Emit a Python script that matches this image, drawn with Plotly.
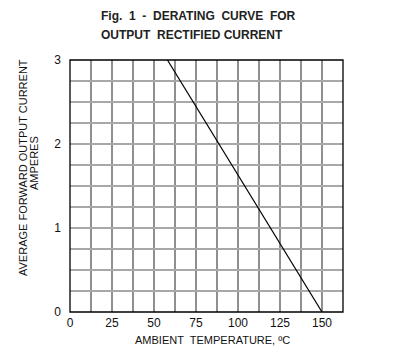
import plotly.graph_objects as go

# Data
temp = [58, 150]          # ambient temperature, °C
current = [3.0, 0.0]      # average forward output current, A

x_grid = [i * 12.5 for i in range(14)]           # 0 .. 162.5
x_labels = ["0", "", "25", "", "50", "", "75", "", "100", "", "125", "", "150", ""]
y_grid = [i * 0.25 for i in range(13)]           # 0 .. 3
y_labels = ["0", "", "", "", "1", "", "", "", "2", "", "", "", "3"]
y_black = [0.5, 0.75, 1.0, 1.25]

OFF = 8  # default page body margin
W, H = 410 - OFF, 358 - OFF
L, R, T, B = 70 - OFF, 67, 60 - OFF, 46
pw, ph = W - L - R, H - T - B

def px(xp):
    return (xp - OFF - L) / pw

def py(yp):
    return (H - B - (yp - OFF)) / ph

fig = go.Figure()
fig.add_trace(go.Scatter(x=temp, y=current, mode="lines",
                         line=dict(color="black", width=1.2),
                         showlegend=False, hoverinfo="skip"))

shapes = []
for yv in y_black:
    shapes.append(dict(type="line", xref="x", yref="y", x0=0, x1=162.5, y0=yv, y1=yv,
                       line=dict(color="black", width=1), layer="below"))
shapes.append(dict(type="line", xref="x", yref="y", x0=150, x1=150, y0=0, y1=3,
                   line=dict(color="black", width=1.3), layer="below"))
shapes.append(dict(type="rect", xref="paper", yref="paper", x0=0, x1=1, y0=0, y1=1,
                   line=dict(color="black", width=1.3)))

font = dict(family="Liberation Sans, Arial, sans-serif", size=12, color="#111")
NB = "\u00a0"
fig.update_layout(
    width=W, height=H,
    margin=dict(l=L, r=R, t=T, b=B),
    paper_bgcolor="white", plot_bgcolor="white",
    font=font,
    shapes=shapes,
    xaxis=dict(range=[0, 162.5], tickvals=x_grid, ticktext=x_labels,
               showgrid=True, gridcolor="#8f8f8f", gridwidth=1.8,
               zeroline=False, showline=False, ticks="", ticklabelstandoff=2,
               tickfont=dict(size=12, color="#111")),
    yaxis=dict(range=[0, 3], tickvals=y_grid, ticktext=y_labels,
               showgrid=True, gridcolor="#a8a8a8", gridwidth=2,
               zeroline=False, showline=False, ticks="", ticklabelstandoff=8,
               tickfont=dict(size=12, color="#111")),
    annotations=[
        dict(text="<b>Fig." + NB + " 1" + NB + " -" + NB + " DERATING" + NB + " CURVE" + NB + " FOR</b>",
             xref="paper", yref="paper",
             x=px(99), y=py(16), xanchor="left", yanchor="middle", showarrow=False,
             font=dict(size=12, color="#222")),
        dict(text="<b>OUTPUT" + NB + " RECTIFIED CURRENT</b>", xref="paper", yref="paper",
             x=px(99), y=py(35), xanchor="left", yanchor="middle", showarrow=False,
             font=dict(size=12, color="#222")),
        dict(text="AMBIENT" + NB + " TEMPERATURE, ºC", xref="paper", yref="paper",
             x=px(212), y=py(340), xanchor="center", yanchor="middle", showarrow=False,
             font=dict(size=11, color="#111")),
        dict(text="AVERAGE FORWARD OUTPUT CURRENT", xref="paper", yref="paper",
             x=px(23), y=py(168), xanchor="center", yanchor="middle", showarrow=False,
             textangle=-90, font=dict(size=11, color="#111")),
        dict(text="AMPERES", xref="paper", yref="paper",
             x=px(34), y=py(163), xanchor="center", yanchor="middle", showarrow=False,
             textangle=-90, font=dict(size=11, color="#111")),
    ],
)

fig.write_html("out.html")
